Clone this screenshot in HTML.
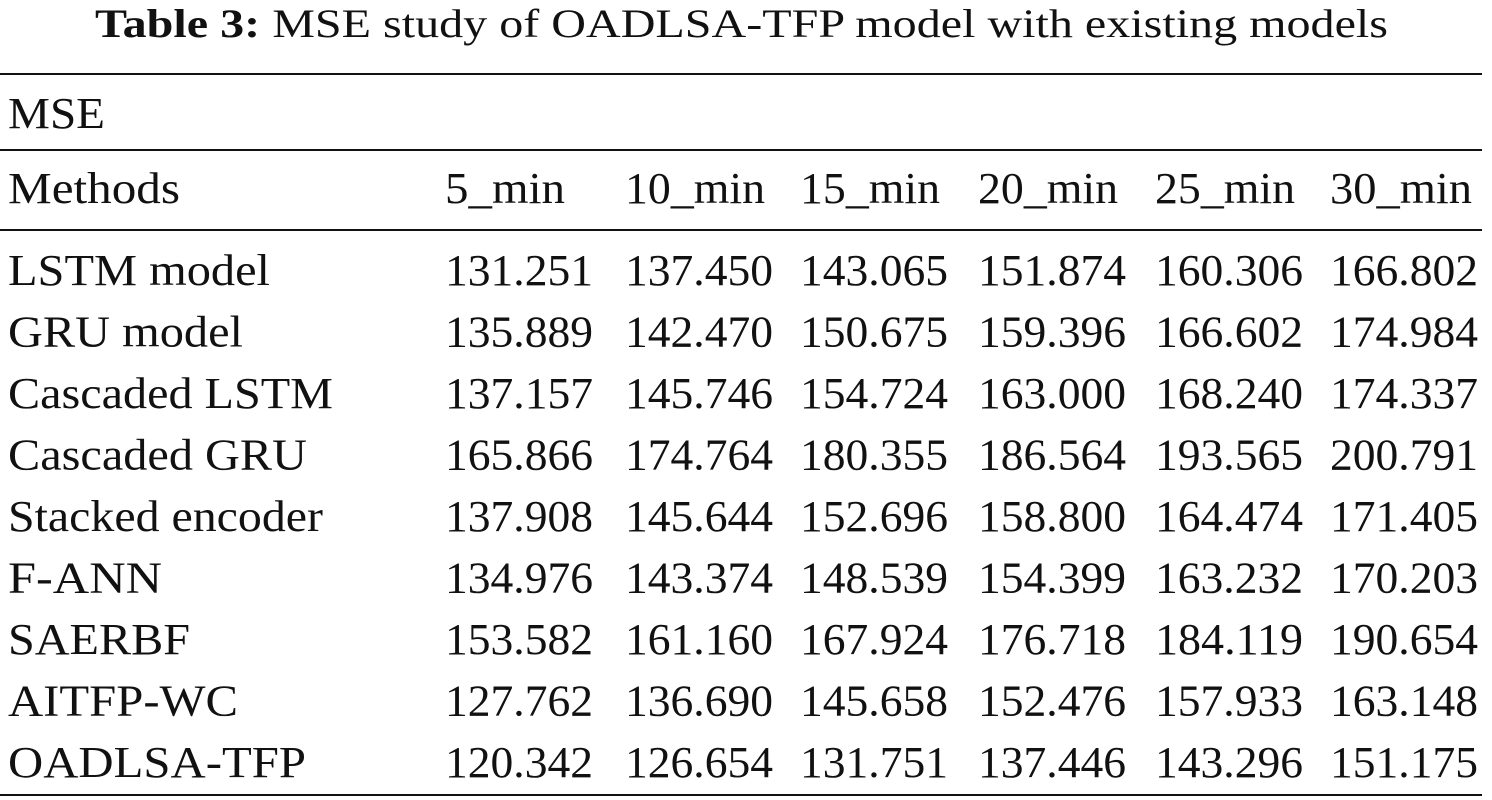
<!DOCTYPE html>
<html><head><meta charset="utf-8"><style>
html,body{margin:0;padding:0;background:#fff;}
svg{display:block;}
text{font-family:"Liberation Serif",serif;fill:#111;}
</style></head><body>
<svg id="tbl" width="1492" height="800" viewBox="0 0 1492 800" xmlns="http://www.w3.org/2000/svg">
<text x="95" y="37" font-size="40" textLength="1293" lengthAdjust="spacingAndGlyphs"><tspan font-weight="bold">Table 3:</tspan>  MSE study of OADLSA-TFP model with existing models</text>
<line x1="0" y1="74" x2="1482" y2="74" stroke="#111" stroke-width="2"/>
<text x="8" y="128" font-size="44" textLength="97" lengthAdjust="spacingAndGlyphs">MSE</text>
<line x1="0" y1="150" x2="1482" y2="150" stroke="#111" stroke-width="2"/>
<line x1="0" y1="230" x2="1482" y2="230" stroke="#111" stroke-width="2"/>
<line x1="0" y1="795" x2="1482" y2="795" stroke="#111" stroke-width="2"/>
<g id="body"></g>
</svg>
<script>
const columns = ["5_min","10_min","15_min","20_min","25_min","30_min"];
const methods = ["LSTM model","GRU model","Cascaded LSTM","Cascaded GRU","Stacked encoder","F-ANN","SAERBF","AITFP-WC","OADLSA-TFP"];
const values = [
["131.251","137.450","143.065","151.874","160.306","166.802"],
["135.889","142.470","150.675","159.396","166.602","174.984"],
["137.157","145.746","154.724","163.000","168.240","174.337"],
["165.866","174.764","180.355","186.564","193.565","200.791"],
["137.908","145.644","152.696","158.800","164.474","171.405"],
["134.976","143.374","148.539","154.399","163.232","170.203"],
["153.582","161.160","167.924","176.718","184.119","190.654"],
["127.762","136.690","145.658","152.476","157.933","163.148"],
["120.342","126.654","131.751","137.446","143.296","151.175"]
];
const NS="http://www.w3.org/2000/svg";
const g=document.getElementById('body');
const colX=[445,625,800,978,1155,1330];
const colW=[120,140,140,140,140,142];
const nameW=[262,235,325,299,315,154,182,230,298];
function txt(s,x,y,name,len){
  const t=document.createElementNS(NS,'text');
  t.setAttribute('x',x);t.setAttribute('y',y);t.setAttribute('font-size','44');
  if(len){t.setAttribute('textLength',len);t.setAttribute('lengthAdjust','spacingAndGlyphs');}
  t.textContent=s;
  
  
  g.appendChild(t);
}
txt("Methods",8,203,"methods-header",172);
columns.forEach((c,i)=>txt(c,colX[i],203,"column-header",colW[i]));
methods.forEach((m,r)=>{
  const y=285+r*61.5;
  txt(m,8,y,"method-name",nameW[r]);
  values[r].forEach((v,i)=>txt(v,colX[i],y,"mse-value",148));
});
</script>
</body></html>
